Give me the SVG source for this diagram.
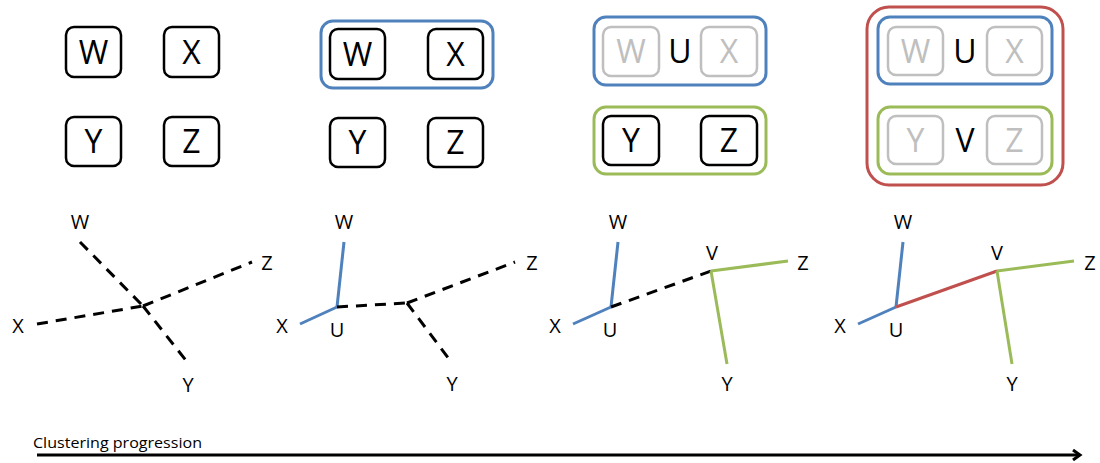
<svg xmlns="http://www.w3.org/2000/svg" width="1100" height="463" viewBox="0 0 1100 463">
  <style>
    .lbl { font-family: "Open Sans", "Liberation Sans", sans-serif; font-size: 32px; fill: #000; text-anchor: middle; }
    .tl { font-family: "Open Sans", "Liberation Sans", sans-serif; font-size: 20px; fill: #000; text-anchor: middle; }
    .glbl { fill: #BFBFBF; }
    .box { fill: #fff; stroke: #000; stroke-width: 2.5; }
    .gbox { fill: #fff; stroke: #BFBFBF; stroke-width: 2.5; }
    .cu { fill: none; stroke: #4F81BD; stroke-width: 3; }
    .cv { fill: none; stroke: #9BBB59; stroke-width: 3; }
    .cr { fill: none; stroke: #C0504D; stroke-width: 3; }
    .dash { fill: none; stroke: #000; stroke-width: 3; stroke-dasharray: 11 8; }
    .eu { stroke: #4F81BD; stroke-width: 3; }
    .ev { stroke: #9BBB59; stroke-width: 3; }
    .er { stroke: #C0504D; stroke-width: 3; }
  </style>
  <defs>
    <marker id="head" markerWidth="12" markerHeight="12" refX="9" refY="6" orient="auto" markerUnits="userSpaceOnUse">
      <path d="M2,1 L9,6 L2,11" fill="none" stroke="#000" stroke-width="3"/>
    </marker>
  </defs>

  <rect width="1100" height="463" fill="#fff"/>

  <!-- Stage 1: four separate items -->
  <g id="s1-W"><rect class="box" x="66" y="27" width="55" height="50" rx="8"/><text class="lbl" x="93.5" y="64">W</text></g>
  <g id="s1-X"><rect class="box" x="164" y="27" width="55" height="50" rx="8"/><text class="lbl" x="191.5" y="64">X</text></g>
  <g id="s1-Y"><rect class="box" x="66" y="117" width="55" height="49" rx="8"/><text class="lbl" x="93.5" y="153">Y</text></g>
  <g id="s1-Z"><rect class="box" x="164" y="117" width="55" height="49" rx="8"/><text class="lbl" x="191.5" y="153">Z</text></g>

  <!-- Stage 2: W and X grouped -->
  <g id="s2-U"><rect class="cu" x="321" y="21" width="172" height="67" rx="12"/></g>
  <g id="s2-W"><rect class="box" x="330" y="29" width="55" height="50" rx="8"/><text class="lbl" x="357.5" y="66">W</text></g>
  <g id="s2-X"><rect class="box" x="428" y="29" width="55" height="50" rx="8"/><text class="lbl" x="455.5" y="66">X</text></g>
  <g id="s2-Y"><rect class="box" x="330" y="118" width="55" height="49" rx="8"/><text class="lbl" x="357.5" y="154">Y</text></g>
  <g id="s2-Z"><rect class="box" x="428" y="118" width="55" height="49" rx="8"/><text class="lbl" x="455.5" y="154">Z</text></g>

  <!-- Stage 3: U = {W, X}, Y and Z grouped -->
  <g id="s3-U">
    <rect class="cu" x="594" y="17" width="172" height="68" rx="12"/>
    <rect class="gbox" x="603" y="27" width="56" height="49" rx="8"/><text class="lbl glbl" x="631" y="63">W</text>
    <rect class="gbox" x="701" y="27" width="56" height="49" rx="8"/><text class="lbl glbl" x="729" y="63">X</text>
    <text class="lbl" x="680" y="63">U</text>
  </g>
  <g id="s3-V">
    <rect class="cv" x="594" y="107" width="172" height="67" rx="12"/>
    <rect class="box" x="603" y="116" width="56" height="49" rx="8"/><text class="lbl" x="631" y="152">Y</text>
    <rect class="box" x="701" y="116" width="56" height="49" rx="8"/><text class="lbl" x="729" y="152">Z</text>
  </g>

  <!-- Stage 4: everything merged -->
  <g id="s4-root">
    <rect class="cr" x="867" y="7" width="196" height="178" rx="22"/>
  </g>
  <g id="s4-U">
    <rect class="cu" x="878" y="17" width="174" height="67" rx="12"/>
    <rect class="gbox" x="888" y="27" width="55" height="48" rx="8"/><text class="lbl glbl" x="915.5" y="63">W</text>
    <rect class="gbox" x="987" y="27" width="55" height="48" rx="8"/><text class="lbl glbl" x="1014.5" y="63">X</text>
    <text class="lbl" x="965" y="63">U</text>
  </g>
  <g id="s4-V">
    <rect class="cv" x="878" y="107" width="174" height="67" rx="12"/>
    <rect class="gbox" x="888" y="116" width="55" height="48" rx="8"/><text class="lbl glbl" x="915.5" y="152">Y</text>
    <rect class="gbox" x="987" y="116" width="55" height="48" rx="8"/><text class="lbl glbl" x="1014.5" y="152">Z</text>
    <text class="lbl" x="965" y="152">V</text>
  </g>

  <!-- Trees -->
  <g id="connectors">
    <!-- tree 1: unresolved star -->
    <line class="dash" x1="80" y1="242" x2="143" y2="306"/>
    <line class="dash" x1="143" y1="306" x2="188" y2="363"/>
    <line class="dash" x1="37" y1="324" x2="143" y2="306"/>
    <line class="dash" x1="143" y1="306" x2="252" y2="262"/>
    <!-- tree 2 -->
    <line class="eu" x1="344" y1="242" x2="337" y2="307"/>
    <line class="eu" x1="300" y1="324" x2="337" y2="307"/>
    <line class="dash" x1="337" y1="307" x2="407" y2="303"/>
    <line class="dash" x1="407" y1="303" x2="515" y2="262"/>
    <line class="dash" x1="407" y1="303" x2="452" y2="363"/>
    <!-- tree 3 -->
    <line class="eu" x1="618" y1="242" x2="611" y2="307"/>
    <line class="eu" x1="573" y1="324" x2="611" y2="307"/>
    <line class="dash" x1="611" y1="307" x2="711" y2="271"/>
    <line class="ev" x1="711" y1="271" x2="788" y2="261"/>
    <line class="ev" x1="711" y1="271" x2="727" y2="364"/>
    <!-- tree 4 -->
    <line class="eu" x1="903" y1="242" x2="896" y2="307"/>
    <line class="eu" x1="858" y1="324" x2="896" y2="307"/>
    <line class="er" x1="896" y1="307" x2="997" y2="271"/>
    <line class="ev" x1="997" y1="271" x2="1074" y2="261"/>
    <line class="ev" x1="997" y1="271" x2="1012" y2="364"/>
    <!-- progression axis -->
    <line x1="37" y1="455" x2="1080" y2="455" stroke="#000" stroke-width="3" marker-end="url(#head)"/>
  </g>

  <g id="tree-labels">
    <text class="tl" x="80" y="229">W</text>
    <text class="tl" x="18" y="333">X</text>
    <text class="tl" x="188" y="392">Y</text>
    <text class="tl" x="267" y="270">Z</text>

    <text class="tl" x="344" y="229">W</text>
    <text class="tl" x="282" y="333">X</text>
    <text class="tl" x="337" y="337">U</text>
    <text class="tl" x="452" y="391">Y</text>
    <text class="tl" x="532" y="270">Z</text>

    <text class="tl" x="618" y="229">W</text>
    <text class="tl" x="555" y="333">X</text>
    <text class="tl" x="610" y="337">U</text>
    <text class="tl" x="712" y="260">V</text>
    <text class="tl" x="803" y="270">Z</text>
    <text class="tl" x="727" y="391">Y</text>

    <text class="tl" x="903" y="229">W</text>
    <text class="tl" x="840" y="333">X</text>
    <text class="tl" x="896" y="337">U</text>
    <text class="tl" x="997" y="260">V</text>
    <text class="tl" x="1090" y="270">Z</text>
    <text class="tl" x="1012" y="391">Y</text>
  </g>

  <text x="33" y="448" font-family="Open Sans, Liberation Sans, sans-serif" font-size="15" textLength="169" lengthAdjust="spacingAndGlyphs" fill="#000">Clustering progression</text>
</svg>
